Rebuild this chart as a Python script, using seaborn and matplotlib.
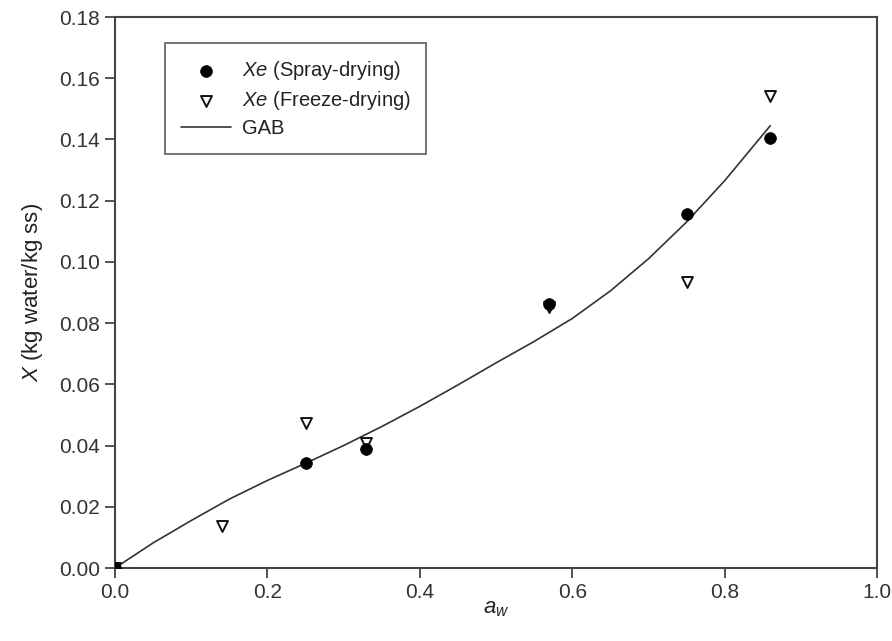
import matplotlib
matplotlib.use("Agg")
import matplotlib.pyplot as plt
import seaborn as sns
import pandas as pd

# Data
aw_spray = [0.0, 0.25, 0.33, 0.57, 0.75, 0.86]
x_spray = [0.0, 0.0342, 0.0388, 0.0864, 0.1155, 0.1406]

aw_freeze = [0.0, 0.14, 0.25, 0.33, 0.57, 0.75, 0.86]
x_freeze = [0.0, 0.0137, 0.0473, 0.0408, 0.0851, 0.0933, 0.1543]

aw_gab = [0.0, 0.05, 0.10, 0.15, 0.20, 0.25, 0.30, 0.35, 0.40, 0.45,
          0.50, 0.55, 0.60, 0.65, 0.70, 0.75, 0.80, 0.86]
x_gab = [0.0, 0.0082, 0.0155, 0.0225, 0.0286, 0.0342, 0.0400, 0.0462,
         0.0528, 0.0598, 0.0670, 0.0740, 0.0815, 0.0905, 0.1010, 0.1130,
         0.1265, 0.1445]

x_ticks = [0.0, 0.2, 0.4, 0.6, 0.8, 1.0]
y_ticks = [0.00, 0.02, 0.04, 0.06, 0.08, 0.10, 0.12, 0.14, 0.16, 0.18]

sns.set_style("white")
plt.rcParams['font.family'] = ['Liberation Sans', 'DejaVu Sans']
plt.rcParams['mathtext.fontset'] = 'custom'
plt.rcParams['mathtext.rm'] = 'Liberation Sans'
plt.rcParams['mathtext.it'] = 'Liberation Sans:italic'

df_s = pd.DataFrame({"aw": aw_spray, "X": x_spray})
df_f = pd.DataFrame({"aw": aw_freeze, "X": x_freeze})
df_g = pd.DataFrame({"aw": aw_gab, "X": x_gab})

fig = plt.figure(figsize=(8.92, 6.41), dpi=100)
ax = fig.add_axes([115/892, 1 - 568/641, (877 - 115)/892, (568 - 17)/641])

sns.lineplot(data=df_g, x="aw", y="X", ax=ax, color="#333333", linewidth=1.2,
             label="GAB", sort=False, zorder=2)
sns.scatterplot(data=df_f, x="aw", y="X", ax=ax, marker="v", s=62,
                facecolor="white", edgecolor="#111111", linewidth=1.4,
                label=r"$\it{Xe}$ (Freeze-drying)", zorder=3)
sns.scatterplot(data=df_s, x="aw", y="X", ax=ax, marker="o", s=72,
                color="black", edgecolor="black", linewidth=0.5,
                label=r"$\it{Xe}$ (Spray-drying)", zorder=4)

ax.set_xlim(0, 1.0)
ax.set_ylim(0, 0.18)
ax.set_xticks(x_ticks)
ax.set_yticks(y_ticks)
ax.set_xticklabels([f"{v:.1f}" for v in x_ticks])
ax.set_yticklabels([f"{v:.2f}" for v in y_ticks])
ax.tick_params(axis="both", which="major", direction="out", length=7, width=1.3,
               color="#444444", labelsize=15, labelcolor="#333333", pad=4,
               bottom=True, left=True, top=False, right=False)
for sp in ax.spines.values():
    sp.set_visible(True)
    sp.set_color("#444444")
    sp.set_linewidth(1.5)

ax.set_xlabel(r"$\it{a}_{\it{w}}$", fontsize=16, color="#222222", labelpad=-3)
ax.set_ylabel(r"$\it{X}$ (kg water/kg ss)", fontsize=16, color="#222222", labelpad=10)

handles, labels = ax.get_legend_handles_labels()
order = [labels.index(r"$\it{Xe}$ (Spray-drying)"),
         labels.index(r"$\it{Xe}$ (Freeze-drying)"),
         labels.index("GAB")]
leg = ax.legend([handles[i] for i in order], [labels[i] for i in order],
                loc="upper left", bbox_to_anchor=(50/762, 1 - 26/551),
                fontsize=14.5, frameon=True, fancybox=False,
                edgecolor="#444444", borderpad=0.8, handlelength=2.5,
                labelspacing=0.35, handletextpad=0.5, borderaxespad=0)
leg.get_frame().set_linewidth(1.3)
for t in leg.get_texts():
    t.set_color("#222222")

fig.savefig("out.png", dpi=100)
